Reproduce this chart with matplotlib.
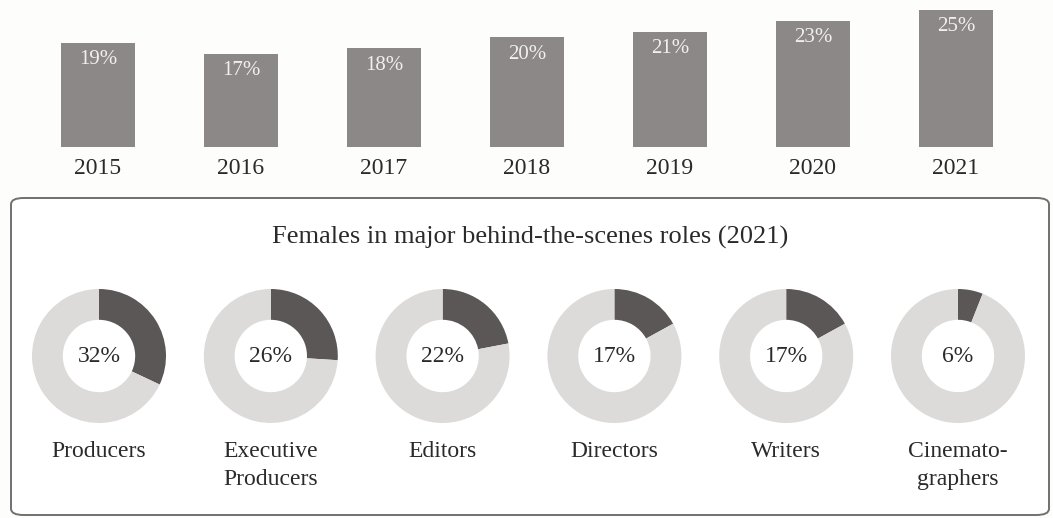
import matplotlib
matplotlib.use("Agg")
import matplotlib.pyplot as plt
from matplotlib.patches import FancyBboxPatch

# Share of women in behind-the-scenes roles, by year
years = ["2015", "2016", "2017", "2018", "2019", "2020", "2021"]
year_share = [19, 17, 18, 20, 21, 23, 25]

# Breakdown by role for 2021
roles = ["Producers", "Executive\nProducers", "Editors", "Directors",
         "Writers", "Cinemato-\ngraphers"]
role_share = [32, 26, 22, 17, 17, 6]

W, H = 1053, 518
BAR_COLOR = "#8b8887"
DARK = "#5b5756"
LIGHT = "#dddbd9"
TEXT = "#2b2a2a"
SERIF = ["Liberation Serif", "DejaVu Serif"]

plt.rcParams["font.family"] = SERIF

fig = plt.figure(figsize=(W / 100, H / 100), dpi=100)
fig.patch.set_facecolor("#fdfdfb")


def fx(px):
    return px / W


def fy(py):
    return 1 - py / H


# ---- yearly bars -------------------------------------------------------
base_py = 147          # baseline of the bars
px_per_pct = 5.5
x0, step = 98, 143
ax = fig.add_axes([0, fy(base_py), 1, base_py / H])
ax.set_xlim(-x0 / step, (W - x0) / step)
ax.set_ylim(0, base_py / px_per_pct)
ax.axis("off")
xs = range(len(years))
ax.bar(xs, year_share, width=74 / step, color=BAR_COLOR)
for i, v in zip(xs, year_share):
    ax.text(i, v - 1.4, f"{v}%", ha="center", va="top", fontsize=15,
            color="#f2f0ef")
    ax.text(i, -2.0, years[i], ha="center", va="top", fontsize=17,
            color=TEXT, clip_on=False)

# ---- role panel --------------------------------------------------------
panel = FancyBboxPatch((fx(11), fy(515)), fx(1049) - fx(11), fy(198) - fy(515),
                       boxstyle="round,pad=0,rounding_size=0.012",
                       transform=fig.transFigure, facecolor="white",
                       edgecolor="#707070", linewidth=1.4, zorder=-1)
fig.patches.append(panel)

fig.text(fx(530), fy(244), "Females in major behind-the-scenes roles (2021)",
         ha="center", va="baseline", fontsize=19, color=TEXT)

cy, r = 356, 67
for i, (name, p) in enumerate(zip(roles, role_share)):
    cx = 99 + 171.8 * i
    dax = fig.add_axes([fx(cx - r), fy(cy + r), 2 * r / W, 2 * r / H])
    dax.pie([p, 100 - p], colors=[DARK, LIGHT], startangle=90,
            counterclock=False, wedgeprops=dict(width=0.46, linewidth=0))
    dax.set_xlim(-1, 1)
    dax.set_ylim(-1, 1)
    dax.set_aspect("auto")
    dax.text(0, 0, f"{p}%", ha="center", va="center", fontsize=17,
             color=TEXT)
    fig.text(fx(cx), fy(441), name, ha="center", va="top", fontsize=17,
             color=TEXT, linespacing=1.45)

fig.savefig("out.png", dpi=100, facecolor=fig.get_facecolor())
